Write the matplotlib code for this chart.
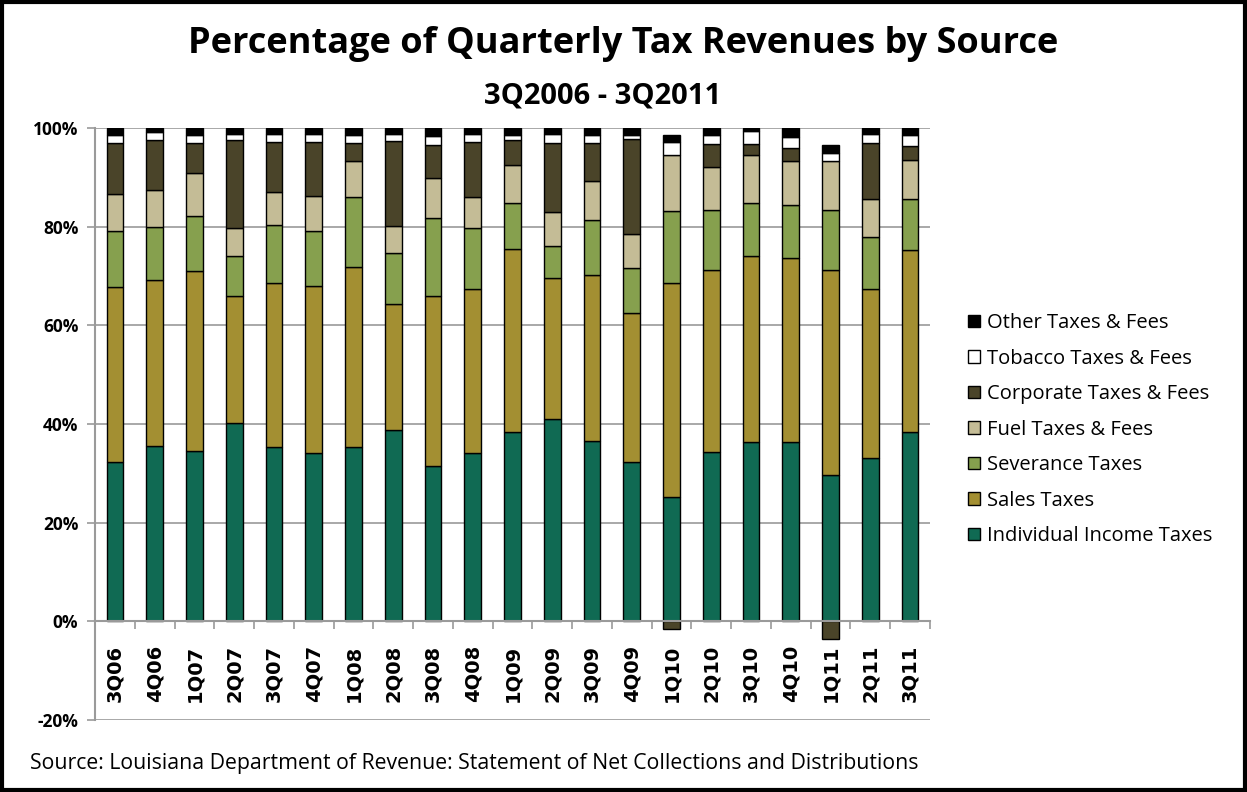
import matplotlib.pyplot as plt
import matplotlib.patches as mpatches
import numpy as np

quarters = ['3Q06', '4Q06', '1Q07', '2Q07', '3Q07', '4Q07', '1Q08', '2Q08', '3Q08', '4Q08', '1Q09',
            '2Q09', '3Q09', '4Q09', '1Q10', '2Q10', '3Q10', '4Q10', '1Q11', '2Q11', '3Q11']

# percent of total quarterly collections
income = [32.2, 35.6, 34.6, 40.3, 35.3, 34.1, 35.3, 38.8, 31.4, 34.1, 38.3,
          41.0, 36.5, 32.2, 25.3, 34.4, 36.4, 36.4, 29.7, 33.2, 38.3]
sales = [35.5, 33.6, 36.4, 25.6, 33.2, 33.9, 36.6, 25.6, 34.5, 33.3, 37.2,
         28.5, 33.8, 30.2, 43.2, 36.9, 37.6, 37.3, 41.6, 34.2, 37.0]
severance = [11.4, 10.8, 11.1, 8.1, 11.8, 11.1, 14.1, 10.2, 15.9, 12.4, 9.3,
             6.6, 11.0, 9.3, 14.6, 12.0, 10.8, 10.6, 12.0, 10.5, 10.4]
fuel = [7.5, 7.5, 8.8, 5.8, 6.7, 7.2, 7.3, 5.6, 8.1, 6.2, 7.8,
        6.9, 8.0, 6.9, 11.4, 8.7, 9.7, 9.0, 10.0, 7.8, 7.8]
corporate = [10.3, 10.0, 6.0, 17.8, 10.2, 10.8, 3.6, 17.2, 6.7, 11.2, 4.9,
             14.0, 7.7, 19.2, -1.5, 4.8, 2.3, 2.7, -3.5, 11.2, 2.8]
tobacco = [1.7, 1.7, 1.75, 1.2, 1.65, 1.7, 1.75, 1.4, 1.7, 1.6, 1.15,
           1.85, 1.65, 0.7, 2.6, 1.85, 2.5, 2.1, 1.7, 1.9, 2.35]
other = [1.3, 0.8, 1.35, 1.2, 1.15, 1.2, 1.35, 1.2, 1.7, 1.2, 1.35,
         1.15, 1.35, 1.5, 1.55, 1.35, 0.7, 1.9, 1.5, 1.2, 1.35]

series = [
    ('Individual Income Taxes', income, '#106a53'),
    ('Sales Taxes', sales, '#a38f32'),
    ('Severance Taxes', severance, '#86a04e'),
    ('Fuel Taxes & Fees', fuel, '#c4bc96'),
    ('Corporate Taxes & Fees', corporate, '#4a4429'),
    ('Tobacco Taxes & Fees', tobacco, '#ffffff'),
    ('Other Taxes & Fees', other, '#000000'),
]

fig = plt.figure(figsize=(12.47, 7.92), dpi=100)
ax = fig.add_axes([95 / 1247, 1 - 720 / 792, 835 / 1247, 592 / 792])

x = np.arange(len(quarters))
pos_base = np.zeros(len(quarters))
neg_base = np.zeros(len(quarters))
handles = []
for name, vals, color in series:
    v = np.array(vals, dtype=float)
    bottoms = np.where(v >= 0, pos_base, neg_base)
    b = ax.bar(x, v, 0.42, bottom=bottoms, color=color, edgecolor='black',
               linewidth=1.0, label=name, zorder=3)
    pos_base += np.where(v >= 0, v, 0)
    neg_base += np.where(v < 0, v, 0)
    handles.append(b)

# spine position first: it resets the tick objects
ax.spines['bottom'].set_position(('data', 0))
ax.spines['bottom'].set_color('#9a9a9a')
ax.spines['bottom'].set_linewidth(1.5)
ax.spines['bottom'].set_zorder(4)
ax.spines['left'].set_color('#9a9a9a')
ax.spines['left'].set_linewidth(1.5)
ax.spines['top'].set_visible(False)
ax.spines['right'].set_visible(False)

ax.set_xlim(-0.5, len(quarters) - 0.5)
ax.set_ylim(-20, 100)
ax.set_yticks(np.arange(-20, 101, 20))
ax.set_yticklabels([f'{t}%' for t in range(-20, 101, 20)], fontsize=12.5,
                   fontweight='bold', family='Open Sans')
ax.yaxis.grid(True, color='#9a9a9a', linewidth=1.2, zorder=0)

ax.set_xticks(x)
ax.set_xticks(np.arange(-0.5, len(quarters), 1), minor=True)
ax.set_xticklabels(quarters, rotation=90, fontsize=14, fontweight='bold', va='top')
ax.tick_params(axis='x', which='major', length=0, pad=17)
ax.tick_params(axis='x', which='minor', length=6, color='#9a9a9a', width=1.2)
ax.tick_params(axis='y', length=6, color='#9a9a9a', width=1.2, pad=6)

leg = fig.legend(handles[::-1], [s[0] for s in series][::-1], loc='upper left',
                 bbox_to_anchor=(950 / 1247, 1 - 295 / 792), frameon=False,
                 prop={'family': 'Open Sans', 'size': 14.5}, handlelength=0.6,
                 handleheight=0.6, handletextpad=0.35, labelspacing=0.77)

fig.text(0.5, 1 - 44 / 792, 'Percentage of Quarterly Tax Revenues by Source', ha='center',
         va='center', fontsize=26, fontweight='bold', family='Open Sans')
fig.text(603 / 1247, 1 - 96 / 792, '3Q2006 - 3Q2011', ha='center', va='center',
         fontsize=21, fontweight='bold', family='Open Sans')
fig.text(30 / 1247, 1 - 764 / 792,
         'Source: Louisiana Department of Revenue: Statement of Net Collections and Distributions',
         ha='left', va='center', fontsize=15.3, family='Open Sans')

fig.patches.append(mpatches.Rectangle((0.002, 0.003), 0.996, 0.994, transform=fig.transFigure,
                                      fill=False, edgecolor='black', linewidth=3))

fig.savefig('out.png', dpi=100)
